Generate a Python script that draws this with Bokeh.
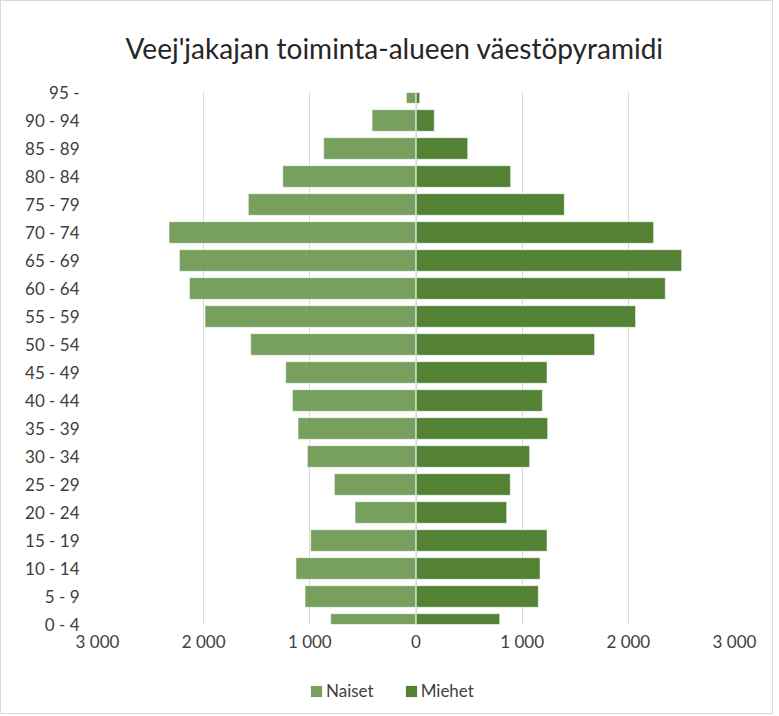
from bokeh.plotting import figure
from bokeh.models import ColumnDataSource, Range1d, FixedTicker, Span, Legend, LegendItem
from bokeh.layouts import column
from bokeh.embed import file_html
from bokeh.resources import INLINE

ages = ["0 - 4", "5 - 9", "10 - 14", "15 - 19", "20 - 24", "25 - 29", "30 - 34",
        "35 - 39", "40 - 44", "45 - 49", "50 - 54", "55 - 59", "60 - 64", "65 - 69",
        "70 - 74", "75 - 79", "80 - 84", "85 - 89", "90 - 94", "95 -"]
naiset = [803, 1045, 1130, 992, 574, 769, 1023, 1111, 1164, 1227, 1557, 1987,
          2134, 2228, 2326, 1579, 1255, 869, 414, 90]
miehet = [788, 1152, 1168, 1234, 854, 888, 1070, 1240, 1190, 1234, 1682, 2068,
          2348, 2502, 2238, 1397, 891, 487, 172, 35]
x_ticks = [-3000, -2000, -1000, 0, 1000, 2000, 3000]
x_tick_labels = ["3 000", "2 000", "1 000", "0", "1 000", "2 000", "3 000"]
series_names = ["Naiset", "Miehet"]

FONT = "Lato"
C_NAISET = "#6b9850"
C_MIEHET = "#548235"

src = ColumnDataSource(dict(
    y=list(range(len(ages))),
    nl=[-v for v in naiset],
    mr=miehet,
))

W = 771
p = figure(width=W, height=666, output_backend="svg", toolbar_location=None,
           x_range=Range1d(-3000, 3000), y_range=Range1d(0, len(ages) - 1),
           title="Veej'jakajan toiminta-alueen väestöpyramidi")
p.min_border_left = 96
p.min_border_right = 38
p.min_border_top = 89
p.min_border_bottom = 43
p.outline_line_color = None
p.background_fill_color = "white"
p.border_fill_color = "white"

p.title.text_font = FONT
p.title.text_font_size = "28px"
p.title.text_font_style = "normal"
p.title.text_color = "#262626"
p.title.align = "left"
p.title.offset = 28
p.title.standoff = 55

r1 = p.hbar(y="y", left="nl", right=0, height=0.77, source=src,
            fill_color=C_NAISET, fill_alpha=0.92, line_color="white", line_alpha=0.5, line_width=1)
r2 = p.hbar(y="y", left=0, right="mr", height=0.77, source=src,
            fill_color=C_MIEHET, line_color="white", line_alpha=0.5, line_width=1)

p.add_layout(Span(location=0, dimension="height", line_color="#d9d9d9", line_width=1.2))

p.ygrid.grid_line_color = None
p.xgrid.grid_line_color = "#d9d9d9"
p.xgrid.grid_line_width = 1

p.xaxis.ticker = FixedTicker(ticks=x_ticks)
p.xaxis.major_label_overrides = {t: l for t, l in zip(x_ticks, x_tick_labels)}
p.yaxis.ticker = FixedTicker(ticks=list(range(len(ages))))
p.yaxis.major_label_overrides = {i: a for i, a in enumerate(ages)}

for ax in (p.xaxis[0], p.yaxis[0]):
    ax.axis_line_color = None
    ax.major_tick_line_color = None
    ax.minor_tick_line_color = None
    ax.major_label_text_font = FONT
    ax.major_label_text_font_size = "17px"
    ax.major_label_text_color = "#404040"
p.xaxis.major_label_standoff = 0
p.yaxis.major_label_standoff = 12

# legend figure (holds only the legend; its swatch renderers sit outside the visible range)
lp = figure(width=W, height=46, output_backend="svg", toolbar_location=None,
            x_axis_type=None, y_axis_type=None,
            x_range=Range1d(0, 1), y_range=Range1d(0, 1))
lp.min_border_left = 0
lp.min_border_right = 0
lp.min_border_top = 0
lp.min_border_bottom = 0
lp.outline_line_color = None
lp.grid.visible = False
lp.background_fill_color = "white"
lp.border_fill_color = "white"
swatch = ColumnDataSource(dict(y=[5], l=[5], r=[6]))
g1 = lp.hbar(y="y", left="l", right="r", height=0.5, source=swatch,
             fill_color=C_NAISET, fill_alpha=0.92, line_color=None)
g2 = lp.hbar(y="y", left="l", right="r", height=0.5, source=swatch,
             fill_color=C_MIEHET, line_color=None)

legend = Legend(items=[LegendItem(label=series_names[0], renderers=[g1]),
                       LegendItem(label=series_names[1], renderers=[g2])],
                orientation="horizontal", location=(212, 12),
                label_text_font=FONT, label_text_font_size="17px",
                label_text_color="#404040",
                glyph_width=14, glyph_height=14, spacing=30,
                label_standoff=3, border_line_color=None,
                background_fill_alpha=0, margin=0, padding=4)
lp.add_layout(legend, "center")

layout = column(p, lp, spacing=0)
layout.styles = {"border": "1px solid #d9d9d9"}

open("out.html", "w").write(file_html(layout, INLINE))
